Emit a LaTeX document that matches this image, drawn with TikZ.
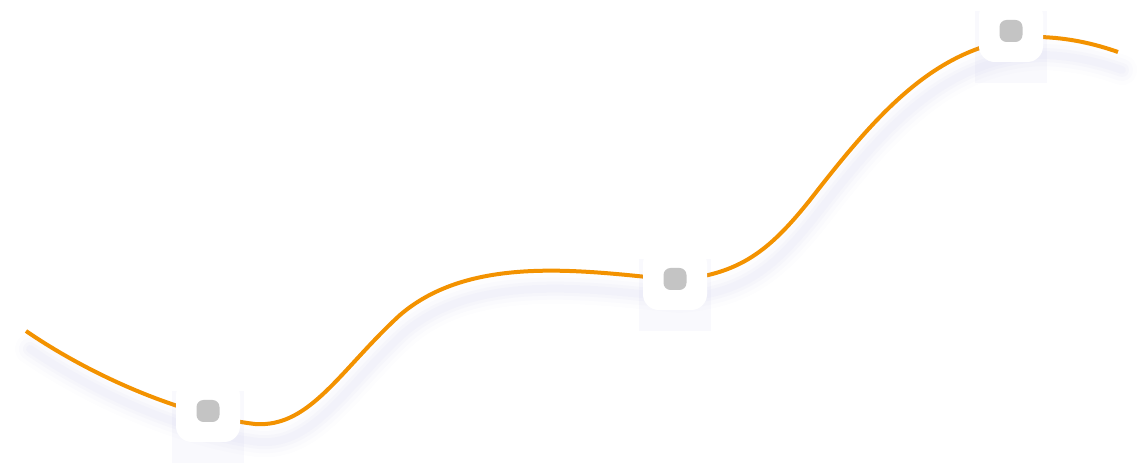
\documentclass[tikz,border=0pt]{standalone}
\usetikzlibrary{calc}
\definecolor{org}{HTML}{F39200}
\definecolor{dotc}{HTML}{C4C4C4}
\definecolor{shd}{HTML}{9B9BD6}
\tikzset{
  marker/.style={fill=white,rounded corners=9pt,minimum width=64*0.02cm,minimum height=62*0.02cm,inner sep=0pt},
  dot/.style={fill=dotc,rounded corners=4pt,minimum width=23*0.02cm,minimum height=22*0.02cm,inner sep=0pt},
}
\begin{document}
\begin{tikzpicture}[x=0.02cm,y=-0.02cm]
\useasboundingbox (0,0) rectangle (1144,475);
\def\curve{(26,331) .. controls (90,375) and (180,415) .. (255,424) .. controls (310,428) and (340,370) .. (400,315) .. controls (470,255) and (580,270) .. (675,280) .. controls (740,275) and (770,250) .. (810,200) .. controls (880,110) and (940,40) .. (1040,37) .. controls (1070,38) and (1095,44) .. (1118,52)}
\foreach \w/\o in {30/0.025,22/0.03,14/0.035,8/0.04}{
  \draw[shd,opacity=\o,line width=\w*0.02cm,line cap=round] [shift={(4,18)}] \curve;
}
\draw[org,line width=4*0.02cm] \curve;
\foreach \n/\p in {m1/{(208,411)},m2/{(675,279)},m3/{(1011,31)}}{
  \fill[shd,opacity=0.06] [shift={(0,8)}] \p ++(-36,-28) rectangle ++(72,72);
  \node[marker] (\n) at \p [yshift=0pt] {};
  \node[dot] (\n d) at \p {};
}
\end{tikzpicture}
\end{document}
